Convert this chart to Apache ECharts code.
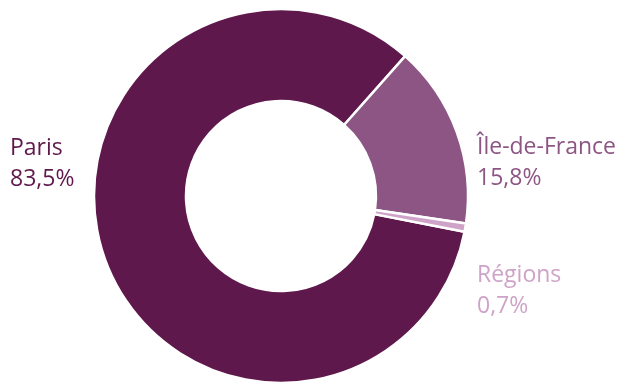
<!DOCTYPE html>
<html>
<head>
<meta charset="utf-8">
<script src="https://cdn.jsdelivr.net/npm/echarts@6/dist/echarts.min.js"></script>
<style>
  html, body { margin: 0; padding: 0; background: #ffffff; }
  #chart { width: 627px; height: 386px; }
</style>
</head>
<body>
<div id="chart"></div>
<script>
// Répartition par zone géographique (en %)
const zones = ['Paris', 'Île-de-France', 'Régions'];
const parts = [83.5, 15.8, 0.7];
const couleurs = ['#5f184b', '#8d5583', '#cfa3c8'];

// Placement des étiquettes (coin gauche, centre vertical du bloc)
const etiquettes = [
  { x: 10, y: 164 },
  { x: 477, y: 163 },
  { x: 477, y: 291 }
];

const chart = echarts.init(document.getElementById('chart'), null, { renderer: 'canvas' });

const data = zones.map((nom, i) => ({
  name: nom,
  value: parts[i],
  itemStyle: { color: couleurs[i] },
  label: { color: couleurs[i] }
}));

chart.setOption({
  animation: false,
  backgroundColor: '#ffffff',
  series: [{
    type: 'pie',
    center: [281, 196],
    radius: [95, 187],
    startAngle: -11,
    clockwise: true,
    avoidLabelOverlap: false,
    itemStyle: { borderColor: '#ffffff', borderWidth: 2.5 },
    label: {
      show: true,
      position: 'outside',
      fontFamily: 'Open Sans',
      fontSize: 23,
      lineHeight: 31,
      formatter: p => p.name + '\n' + p.value.toFixed(1).replace('.', ',') + '%'
    },
    labelLine: { show: false },
    labelLayout: p => ({
      x: etiquettes[p.dataIndex].x,
      y: etiquettes[p.dataIndex].y,
      align: 'left',
      verticalAlign: 'middle'
    }),
    emphasis: { disabled: true },
    data: data
  }]
});
</script>
</body>
</html>
